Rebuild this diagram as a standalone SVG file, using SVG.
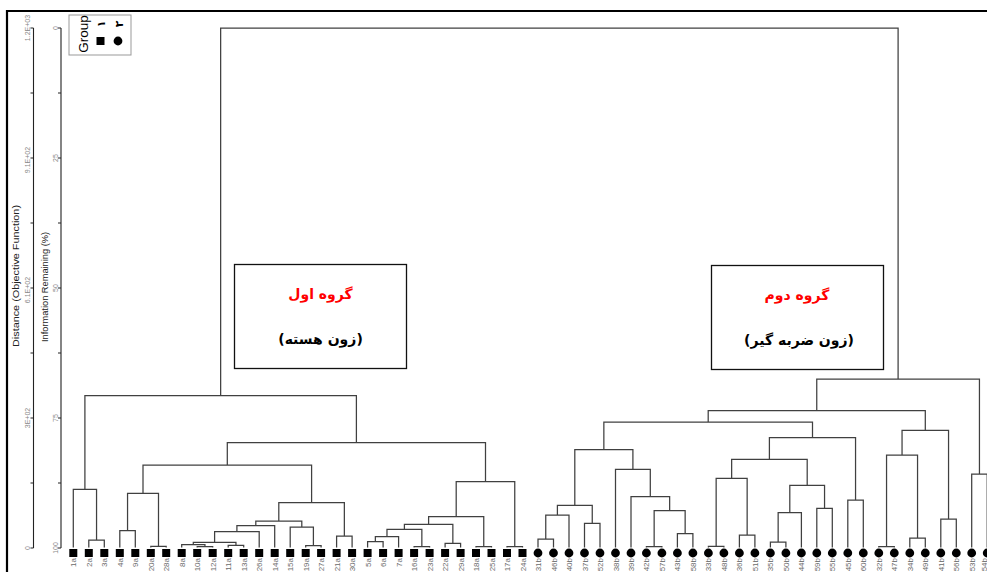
<svg xmlns="http://www.w3.org/2000/svg" xmlns:xlink="http://www.w3.org/1999/xlink" width="987" height="572" viewBox="0 0 987 572">
<style>
.ln{fill:none;stroke:#404040;stroke-width:1.25}
.ax{fill:none;stroke:#222;stroke-width:1.1}
.tk{font-family:"Liberation Sans",Arial,sans-serif;font-size:7px;fill:#888}
.tt{font-family:"Liberation Sans",Arial,sans-serif;font-size:9px;fill:#222}
.lb{font-family:"Liberation Sans",Arial,sans-serif;font-size:8px;fill:#6a6a6a}
.mk{fill:#000}
.bx{fill:#fff;stroke:#111;stroke-width:1.3}
.fa{font-family:"DejaVu Sans","Noto Sans",sans-serif;font-weight:bold;font-size:14px}
</style>
<defs>
<rect id="sq" x="-4" y="-4" width="8" height="8" class="mk"/>
<circle id="ci" r="4.4" class="mk"/>
</defs>
<rect width="987" height="572" fill="#fff"/>
<path d="M7 572V11H987" fill="none" stroke="#000" stroke-width="2.2"/>

<g id="axes">
<path class="ax" d="M33.5 28V548M61 28V548"/>
<path class="ax" d="M30.5 28H33.5M30.5 93H33.5M30.5 158H33.5M30.5 223H33.5M30.5 288H33.5M30.5 353H33.5M30.5 418H33.5M30.5 483H33.5M30.5 548H33.5"/>
<path class="ax" d="M58 28H61M58 93H61M58 158H61M58 223H61M58 288H61M58 353H61M58 418H61M58 483H61M58 548H61"/>
<text class="tk" text-anchor="middle" transform="translate(30,28) rotate(-90)">1.2E+03</text>
<text class="tk" text-anchor="middle" transform="translate(30,160) rotate(-90)">9.1E+02</text>
<text class="tk" text-anchor="middle" transform="translate(30,290) rotate(-90)">6.1E+02</text>
<text class="tk" text-anchor="middle" transform="translate(30,418) rotate(-90)">3E+02</text>
<text class="tk" text-anchor="middle" transform="translate(30,548) rotate(-90)">0</text>
<text class="tk" text-anchor="middle" transform="translate(57.5,28) rotate(-90)">0</text>
<text class="tk" text-anchor="middle" transform="translate(57.5,158) rotate(-90)">25</text>
<text class="tk" text-anchor="middle" transform="translate(57.5,288) rotate(-90)">50</text>
<text class="tk" text-anchor="middle" transform="translate(57.5,418) rotate(-90)">75</text>
<text class="tk" text-anchor="middle" transform="translate(57.5,548) rotate(-90)">100</text>
<text class="tt" text-anchor="middle" textLength="142" lengthAdjust="spacingAndGlyphs" transform="translate(19,276) rotate(-90)">Distance (Objective Function)</text>
<text class="tt" text-anchor="middle" textLength="110" lengthAdjust="spacingAndGlyphs" transform="translate(47.5,287) rotate(-90)">Information Remaining (%)</text>
</g>

<g id="legend">
<rect x="69" y="15" width="62" height="40" fill="#fff" stroke="#999" stroke-width="1"/>
<text transform="translate(88,34) rotate(-90)" text-anchor="middle" font-family="Liberation Sans,Arial,sans-serif" font-size="13.5" fill="#000">Group</text>
<use xlink:href="#sq" x="100.5" y="41"/>
<use xlink:href="#ci" x="118" y="41"/>
<text transform="translate(104.5,24) rotate(-90)" text-anchor="middle" font-family="DejaVu Sans,sans-serif" font-size="11" font-weight="bold" fill="#000">۱</text>
<text transform="translate(122.5,24) rotate(-90)" text-anchor="middle" font-family="DejaVu Sans,sans-serif" font-size="11" font-weight="bold" fill="#000">۲</text>
</g>

<g id="connectors">
<path class="ln" d="M220.65 395.7V28H898.1V379"/>
<path class="ln" d="M88.8 547.5V540H104.3V547.5"/>
<path class="ln" d="M73.3 547.5V489.3H96.55V540"/>
<path class="ln" d="M119.8 547.5V530.7H135.3V547.5"/>
<path class="ln" d="M150.8 547.5V546.3H166.2V547.5"/>
<path class="ln" d="M127.55 530.7V493.3H158.5V546.3"/>
<path class="ln" d="M197.2 547.5V546.5H212.7V547.5"/>
<path class="ln" d="M181.7 547.5V544.5H204.95V546.5"/>
<path class="ln" d="M228.2 547.5V545.3H243.7V547.5"/>
<path class="ln" d="M193.3 544.5V542.3H235.95V545.3"/>
<path class="ln" d="M214.6 542.3V531.7H259.2V547.5"/>
<path class="ln" d="M236.9 531.7V525.7H274.7V547.5"/>
<path class="ln" d="M305.7 547.5V545.7H321.1V547.5"/>
<path class="ln" d="M290.2 547.5V527H313.4V545.7"/>
<path class="ln" d="M255.8 525.7V521H301.8V527"/>
<path class="ln" d="M336.6 547.5V536H352.1V547.5"/>
<path class="ln" d="M278.8 521V502.7H344.35V536"/>
<path class="ln" d="M143 493.3V465H311.6V502.7"/>
<path class="ln" d="M367.6 547.5V541.7H383.1V547.5"/>
<path class="ln" d="M375.35 541.7V536.7H398.6V547.5"/>
<path class="ln" d="M414.1 547.5V546.5H429.6V547.5"/>
<path class="ln" d="M386.98 536.7V529.3H421.85V546.5"/>
<path class="ln" d="M445.1 547.5V543.3H460.6V547.5"/>
<path class="ln" d="M404.4 529.3V524.3H452.85V543.3"/>
<path class="ln" d="M476 547.5V546.5H491.5V547.5"/>
<path class="ln" d="M428.6 524.3V516.7H483.75V546.5"/>
<path class="ln" d="M507 547.5V546.5H522.5V547.5"/>
<path class="ln" d="M456.2 516.7V481.7H514.75V546.5"/>
<path class="ln" d="M227.3 465V442.7H485.5V481.7"/>
<path class="ln" d="M84.9 489.3V395.7H356.4V442.7"/>
<path class="ln" d="M538 547.5V539H553.5V547.5"/>
<path class="ln" d="M545.75 539V515H569V547.5"/>
<path class="ln" d="M584.5 547.5V523.3H600V547.5"/>
<path class="ln" d="M557.4 515V505.3H592.25V523.3"/>
<path class="ln" d="M646.4 547.5V546.5H661.9V547.5"/>
<path class="ln" d="M677.4 547.5V533.7H692.9V547.5"/>
<path class="ln" d="M654.15 546.5V510.7H685.15V533.7"/>
<path class="ln" d="M631 547.5V496.7H669.65V510.7"/>
<path class="ln" d="M615.5 547.5V469.3H650.3V496.7"/>
<path class="ln" d="M574.8 505.3V449.7H632.9V469.3"/>
<path class="ln" d="M708.4 547.5V546.3H723.9V547.5"/>
<path class="ln" d="M739.4 547.5V535H754.9V547.5"/>
<path class="ln" d="M716.15 546.3V478.3H747.15V535"/>
<path class="ln" d="M770.4 547.5V542H785.9V547.5"/>
<path class="ln" d="M778.15 542V512.7H801.4V547.5"/>
<path class="ln" d="M816.8 547.5V508.3H832.3V547.5"/>
<path class="ln" d="M789.8 512.7V485.3H824.55V508.3"/>
<path class="ln" d="M731.65 478.3V459.3H807.2V485.3"/>
<path class="ln" d="M847.8 547.5V500H863.3V547.5"/>
<path class="ln" d="M769.4 459.3V437.7H855.55V500"/>
<path class="ln" d="M603.85 449.7V422H812.5V437.7"/>
<path class="ln" d="M878.8 547.5V546.7H894.3V547.5"/>
<path class="ln" d="M909.8 547.5V538H925.3V547.5"/>
<path class="ln" d="M886.55 546.7V455H917.55V538"/>
<path class="ln" d="M940.8 547.5V519H956.3V547.5"/>
<path class="ln" d="M902.05 455V430.3H948.55V519"/>
<path class="ln" d="M708.2 422V410.7H925.3V430.3"/>
<path class="ln" d="M971.7 547.5V474H987.2V547.5"/>
<path class="ln" d="M816.75 410.7V379H979.45V474"/>
</g>

<g id="box-group1">
<rect class="bx" x="234.5" y="264.5" width="172" height="104"/>
<text class="fa" x="320.5" y="299" text-anchor="middle" fill="#ff0000">گروه اول</text>
<text class="fa" x="320.5" y="344" text-anchor="middle" fill="#000">(زون هسته)</text>
</g>
<g id="box-group2">
<rect class="bx" x="711.5" y="265.5" width="172" height="104"/>
<text class="fa" x="797" y="300" text-anchor="middle" fill="#ff0000">گروه دوم</text>
<text class="fa" x="799" y="345" text-anchor="middle" fill="#000">(زون ضربه گیر)</text>
</g>

<g id="leaves">
<g id="leaf-1a"><use xlink:href="#sq" x="73.3" y="553"/><text class="lb" text-anchor="end" transform="translate(76.3,558) rotate(-90)">1a</text></g>
<g id="leaf-2a"><use xlink:href="#sq" x="88.8" y="553"/><text class="lb" text-anchor="end" transform="translate(91.8,558) rotate(-90)">2a</text></g>
<g id="leaf-3a"><use xlink:href="#sq" x="104.3" y="553"/><text class="lb" text-anchor="end" transform="translate(107.3,558) rotate(-90)">3a</text></g>
<g id="leaf-4a"><use xlink:href="#sq" x="119.8" y="553"/><text class="lb" text-anchor="end" transform="translate(122.8,558) rotate(-90)">4a</text></g>
<g id="leaf-9a"><use xlink:href="#sq" x="135.3" y="553"/><text class="lb" text-anchor="end" transform="translate(138.3,558) rotate(-90)">9a</text></g>
<g id="leaf-20a"><use xlink:href="#sq" x="150.8" y="553"/><text class="lb" text-anchor="end" transform="translate(153.8,558) rotate(-90)">20a</text></g>
<g id="leaf-28a"><use xlink:href="#sq" x="166.2" y="553"/><text class="lb" text-anchor="end" transform="translate(169.2,558) rotate(-90)">28a</text></g>
<g id="leaf-8a"><use xlink:href="#sq" x="181.7" y="553"/><text class="lb" text-anchor="end" transform="translate(184.7,558) rotate(-90)">8a</text></g>
<g id="leaf-10a"><use xlink:href="#sq" x="197.2" y="553"/><text class="lb" text-anchor="end" transform="translate(200.2,558) rotate(-90)">10a</text></g>
<g id="leaf-12a"><use xlink:href="#sq" x="212.7" y="553"/><text class="lb" text-anchor="end" transform="translate(215.7,558) rotate(-90)">12a</text></g>
<g id="leaf-11a"><use xlink:href="#sq" x="228.2" y="553"/><text class="lb" text-anchor="end" transform="translate(231.2,558) rotate(-90)">11a</text></g>
<g id="leaf-13a"><use xlink:href="#sq" x="243.7" y="553"/><text class="lb" text-anchor="end" transform="translate(246.7,558) rotate(-90)">13a</text></g>
<g id="leaf-26a"><use xlink:href="#sq" x="259.2" y="553"/><text class="lb" text-anchor="end" transform="translate(262.2,558) rotate(-90)">26a</text></g>
<g id="leaf-14a"><use xlink:href="#sq" x="274.7" y="553"/><text class="lb" text-anchor="end" transform="translate(277.7,558) rotate(-90)">14a</text></g>
<g id="leaf-15a"><use xlink:href="#sq" x="290.2" y="553"/><text class="lb" text-anchor="end" transform="translate(293.2,558) rotate(-90)">15a</text></g>
<g id="leaf-19a"><use xlink:href="#sq" x="305.7" y="553"/><text class="lb" text-anchor="end" transform="translate(308.7,558) rotate(-90)">19a</text></g>
<g id="leaf-27a"><use xlink:href="#sq" x="321.1" y="553"/><text class="lb" text-anchor="end" transform="translate(324.1,558) rotate(-90)">27a</text></g>
<g id="leaf-21a"><use xlink:href="#sq" x="336.6" y="553"/><text class="lb" text-anchor="end" transform="translate(339.6,558) rotate(-90)">21a</text></g>
<g id="leaf-30a"><use xlink:href="#sq" x="352.1" y="553"/><text class="lb" text-anchor="end" transform="translate(355.1,558) rotate(-90)">30a</text></g>
<g id="leaf-5a"><use xlink:href="#sq" x="367.6" y="553"/><text class="lb" text-anchor="end" transform="translate(370.6,558) rotate(-90)">5a</text></g>
<g id="leaf-6a"><use xlink:href="#sq" x="383.1" y="553"/><text class="lb" text-anchor="end" transform="translate(386.1,558) rotate(-90)">6a</text></g>
<g id="leaf-7a"><use xlink:href="#sq" x="398.6" y="553"/><text class="lb" text-anchor="end" transform="translate(401.6,558) rotate(-90)">7a</text></g>
<g id="leaf-16a"><use xlink:href="#sq" x="414.1" y="553"/><text class="lb" text-anchor="end" transform="translate(417.1,558) rotate(-90)">16a</text></g>
<g id="leaf-23a"><use xlink:href="#sq" x="429.6" y="553"/><text class="lb" text-anchor="end" transform="translate(432.6,558) rotate(-90)">23a</text></g>
<g id="leaf-22a"><use xlink:href="#sq" x="445.1" y="553"/><text class="lb" text-anchor="end" transform="translate(448.1,558) rotate(-90)">22a</text></g>
<g id="leaf-29a"><use xlink:href="#sq" x="460.6" y="553"/><text class="lb" text-anchor="end" transform="translate(463.6,558) rotate(-90)">29a</text></g>
<g id="leaf-18a"><use xlink:href="#sq" x="476" y="553"/><text class="lb" text-anchor="end" transform="translate(479,558) rotate(-90)">18a</text></g>
<g id="leaf-25a"><use xlink:href="#sq" x="491.5" y="553"/><text class="lb" text-anchor="end" transform="translate(494.5,558) rotate(-90)">25a</text></g>
<g id="leaf-17a"><use xlink:href="#sq" x="507" y="553"/><text class="lb" text-anchor="end" transform="translate(510,558) rotate(-90)">17a</text></g>
<g id="leaf-24a"><use xlink:href="#sq" x="522.5" y="553"/><text class="lb" text-anchor="end" transform="translate(525.5,558) rotate(-90)">24a</text></g>
<g id="leaf-31b"><use xlink:href="#ci" x="538" y="553"/><text class="lb" text-anchor="end" transform="translate(541,558) rotate(-90)">31b</text></g>
<g id="leaf-46b"><use xlink:href="#ci" x="553.5" y="553"/><text class="lb" text-anchor="end" transform="translate(556.5,558) rotate(-90)">46b</text></g>
<g id="leaf-40b"><use xlink:href="#ci" x="569" y="553"/><text class="lb" text-anchor="end" transform="translate(572,558) rotate(-90)">40b</text></g>
<g id="leaf-37b"><use xlink:href="#ci" x="584.5" y="553"/><text class="lb" text-anchor="end" transform="translate(587.5,558) rotate(-90)">37b</text></g>
<g id="leaf-52b"><use xlink:href="#ci" x="600" y="553"/><text class="lb" text-anchor="end" transform="translate(603,558) rotate(-90)">52b</text></g>
<g id="leaf-38b"><use xlink:href="#ci" x="615.5" y="553"/><text class="lb" text-anchor="end" transform="translate(618.5,558) rotate(-90)">38b</text></g>
<g id="leaf-39b"><use xlink:href="#ci" x="631" y="553"/><text class="lb" text-anchor="end" transform="translate(634,558) rotate(-90)">39b</text></g>
<g id="leaf-42b"><use xlink:href="#ci" x="646.4" y="553"/><text class="lb" text-anchor="end" transform="translate(649.4,558) rotate(-90)">42b</text></g>
<g id="leaf-57b"><use xlink:href="#ci" x="661.9" y="553"/><text class="lb" text-anchor="end" transform="translate(664.9,558) rotate(-90)">57b</text></g>
<g id="leaf-43b"><use xlink:href="#ci" x="677.4" y="553"/><text class="lb" text-anchor="end" transform="translate(680.4,558) rotate(-90)">43b</text></g>
<g id="leaf-58b"><use xlink:href="#ci" x="692.9" y="553"/><text class="lb" text-anchor="end" transform="translate(695.9,558) rotate(-90)">58b</text></g>
<g id="leaf-33b"><use xlink:href="#ci" x="708.4" y="553"/><text class="lb" text-anchor="end" transform="translate(711.4,558) rotate(-90)">33b</text></g>
<g id="leaf-48b"><use xlink:href="#ci" x="723.9" y="553"/><text class="lb" text-anchor="end" transform="translate(726.9,558) rotate(-90)">48b</text></g>
<g id="leaf-36b"><use xlink:href="#ci" x="739.4" y="553"/><text class="lb" text-anchor="end" transform="translate(742.4,558) rotate(-90)">36b</text></g>
<g id="leaf-51b"><use xlink:href="#ci" x="754.9" y="553"/><text class="lb" text-anchor="end" transform="translate(757.9,558) rotate(-90)">51b</text></g>
<g id="leaf-35b"><use xlink:href="#ci" x="770.4" y="553"/><text class="lb" text-anchor="end" transform="translate(773.4,558) rotate(-90)">35b</text></g>
<g id="leaf-50b"><use xlink:href="#ci" x="785.9" y="553"/><text class="lb" text-anchor="end" transform="translate(788.9,558) rotate(-90)">50b</text></g>
<g id="leaf-44b"><use xlink:href="#ci" x="801.4" y="553"/><text class="lb" text-anchor="end" transform="translate(804.4,558) rotate(-90)">44b</text></g>
<g id="leaf-59b"><use xlink:href="#ci" x="816.8" y="553"/><text class="lb" text-anchor="end" transform="translate(819.8,558) rotate(-90)">59b</text></g>
<g id="leaf-55b"><use xlink:href="#ci" x="832.3" y="553"/><text class="lb" text-anchor="end" transform="translate(835.3,558) rotate(-90)">55b</text></g>
<g id="leaf-45b"><use xlink:href="#ci" x="847.8" y="553"/><text class="lb" text-anchor="end" transform="translate(850.8,558) rotate(-90)">45b</text></g>
<g id="leaf-60b"><use xlink:href="#ci" x="863.3" y="553"/><text class="lb" text-anchor="end" transform="translate(866.3,558) rotate(-90)">60b</text></g>
<g id="leaf-32b"><use xlink:href="#ci" x="878.8" y="553"/><text class="lb" text-anchor="end" transform="translate(881.8,558) rotate(-90)">32b</text></g>
<g id="leaf-47b"><use xlink:href="#ci" x="894.3" y="553"/><text class="lb" text-anchor="end" transform="translate(897.3,558) rotate(-90)">47b</text></g>
<g id="leaf-34b"><use xlink:href="#ci" x="909.8" y="553"/><text class="lb" text-anchor="end" transform="translate(912.8,558) rotate(-90)">34b</text></g>
<g id="leaf-49b"><use xlink:href="#ci" x="925.3" y="553"/><text class="lb" text-anchor="end" transform="translate(928.3,558) rotate(-90)">49b</text></g>
<g id="leaf-41b"><use xlink:href="#ci" x="940.8" y="553"/><text class="lb" text-anchor="end" transform="translate(943.8,558) rotate(-90)">41b</text></g>
<g id="leaf-56b"><use xlink:href="#ci" x="956.3" y="553"/><text class="lb" text-anchor="end" transform="translate(959.3,558) rotate(-90)">56b</text></g>
<g id="leaf-53b"><use xlink:href="#ci" x="971.7" y="553"/><text class="lb" text-anchor="end" transform="translate(974.7,558) rotate(-90)">53b</text></g>
<g id="leaf-54b"><use xlink:href="#ci" x="987.2" y="553"/><text class="lb" text-anchor="end" transform="translate(986.5,558) rotate(-90)">54b</text></g>
</g>
</svg>
